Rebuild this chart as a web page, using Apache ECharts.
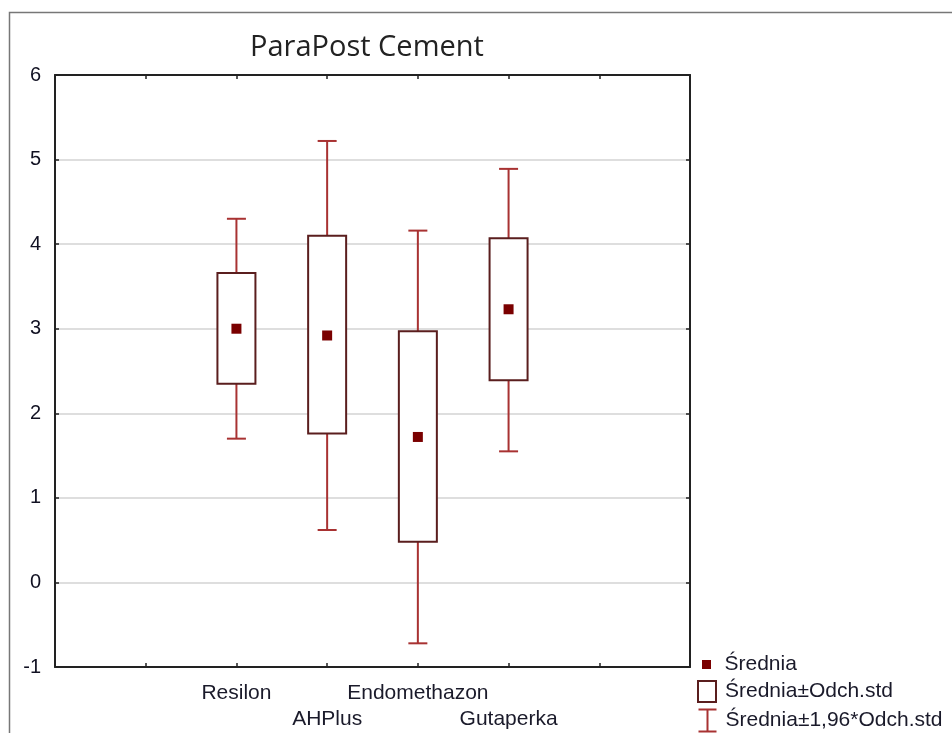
<!DOCTYPE html>
<html>
<head>
<meta charset="utf-8">
<script src="https://cdn.jsdelivr.net/npm/echarts@6/dist/echarts.min.js"></script>
<style>
html,body{margin:0;padding:0;background:#fff;}
#chart{width:952px;height:733px;}
</style>
</head>
<body>
<div id="chart"></div>
<script>
// ---- data ----
var categories = ['Resilon', 'AHPlus', 'Endomethazon', 'Gutaperka'];
var means  = [3.00, 2.92, 1.72, 3.23];   // Średnia
var sdLow  = [2.35, 1.76, 0.48, 2.39];   // Średnia - Odch.std
var sdHigh = [3.66, 4.10, 2.97, 4.07];   // Średnia + Odch.std
var ciLow  = [1.70, 0.62, -0.72, 1.55];  // Średnia - 1,96*Odch.std
var ciHigh = [4.30, 5.22, 4.16, 4.89];   // Średnia + 1,96*Odch.std
var yTicks = [-1, 0, 1, 2, 3, 4, 5, 6];

var padBefore = ['_a', '_b'];
var padAfter = ['_c', '_d'];
var axisCats = padBefore.concat(categories, padAfter);
var offset = padBefore.length;

var boxData = categories.map(function (c, i) { return [i + offset, sdLow[i], sdHigh[i]]; });
var whiskerData = categories.map(function (c, i) { return [i + offset, ciLow[i], ciHigh[i]]; });
var meanData = categories.map(function (c, i) { return [i + offset, means[i]]; });

var WHISKER = '#a83232', BOX = '#5a1e1e', MEAN = '#7a0000';
var FONT = '"Liberation Sans", Arial, sans-serif';

var chart = echarts.init(document.getElementById('chart'), null, {renderer: 'canvas'});

function catLabel(v, idx) {
  if (v.charAt(0) === '_') return '';
  var k = categories.indexOf(v);
  return (k % 2 === 1) ? '\n' + v : v;
}

var option = {
  animation: false,
  backgroundColor: '#fff',
  title: {
    text: 'ParaPost Cement',
    left: 250, top: 33,
    padding: 0,
    textStyle: {fontFamily: '"Open Sans", sans-serif', fontSize: 29, fontWeight: 'normal', color: '#222'}
  },
  graphic: [{
    type: 'polyline',
    shape: {points: [[9.5, 733], [9.5, 12.5], [952, 12.5]]},
    style: {stroke: '#777', lineWidth: 1.5, fill: null},
    silent: true
  }],
  legend: [
    {
      orient: 'vertical', left: 702, top: 654, padding: 0,
      itemWidth: 26, itemHeight: 9, symbolKeepAspect: true,
      textStyle: {fontFamily: FONT, fontSize: 21, color: '#1a1a2a'},
      data: [{name: 'Średnia', icon: 'path://M0,0H10V10H0Z', itemStyle: {color: MEAN, opacity: 1}}]
    },
    {
      orient: 'vertical', left: 697, top: 680, padding: 0,
      itemWidth: 26, itemHeight: 21, symbolKeepAspect: true,
      textStyle: {fontFamily: FONT, fontSize: 21, color: '#1a1a2a'},
      data: [{name: 'Średnia±Odch.std', icon: 'path://M0,0H18V21H0Z',
              itemStyle: {color: '#fff', borderColor: BOX, borderWidth: 2}}]
    },
    {
      orient: 'vertical', left: 696, top: 707, padding: 0,
      itemWidth: 26, itemHeight: 22, symbolKeepAspect: true,
      textStyle: {fontFamily: FONT, fontSize: 21, color: '#1a1a2a'},
      data: [{name: 'Średnia±1,96*Odch.std', icon: 'path://M0,0H18M9,0V22M0,22H18',
              itemStyle: {color: 'none', borderColor: WHISKER, borderWidth: 2}}]
    }
  ],
  grid: {left: 55, right: 262, top: 75, bottom: 66, containLabel: false},
  xAxis: [
    {
      type: 'category', data: axisCats, boundaryGap: false, position: 'bottom',
      axisLine: {onZero: false, lineStyle: {color: '#222', width: 2}},
      axisTick: {inside: true, length: 4, interval: 0, lineStyle: {color: '#222', width: 1.5}},
      axisLabel: {interval: 0, formatter: catLabel, fontFamily: FONT, fontSize: 21,
                  color: '#1a1a2a', margin: 13, lineHeight: 26},
      splitLine: {show: false}
    },
    {
      type: 'category', data: axisCats, boundaryGap: false, position: 'top',
      axisLine: {onZero: false, lineStyle: {color: '#222', width: 2}},
      axisTick: {inside: true, length: 4, interval: 0, lineStyle: {color: '#222', width: 1.5}},
      axisLabel: {show: false}, splitLine: {show: false}
    }
  ],
  yAxis: [
    {
      type: 'value', min: yTicks[0], max: yTicks[yTicks.length - 1], interval: 1, position: 'left',
      axisLine: {show: true, onZero: false, lineStyle: {color: '#222', width: 2}},
      axisTick: {show: true, inside: true, length: 4, lineStyle: {color: '#222', width: 1.5}},
      axisLabel: {fontFamily: FONT, fontSize: 20, color: '#111122', margin: 14},
      splitLine: {show: true, lineStyle: {color: '#dedede', width: 2}}
    },
    {
      type: 'value', min: yTicks[0], max: yTicks[yTicks.length - 1], interval: 1, position: 'right',
      axisLine: {show: true, onZero: false, lineStyle: {color: '#222', width: 2}},
      axisTick: {show: true, inside: true, length: 4, lineStyle: {color: '#222', width: 1.5}},
      axisLabel: {show: false}, splitLine: {show: false}
    }
  ],
  series: [
    {
      name: 'Średnia±1,96*Odch.std',
      type: 'custom',
      itemStyle: {color: WHISKER},
      encode: {x: 0, y: [1, 2]},
      data: whiskerData,
      renderItem: function (params, api) {
        var x = api.value(0);
        var lo = api.coord([x, api.value(1)]);
        var hi = api.coord([x, api.value(2)]);
        var half = 9.5;
        var st = {stroke: WHISKER, lineWidth: 2, fill: null};
        return {
          type: 'group',
          children: [
            {type: 'line', shape: {x1: lo[0], y1: lo[1], x2: hi[0], y2: hi[1]}, style: st},
            {type: 'line', shape: {x1: lo[0] - half, y1: lo[1], x2: lo[0] + half, y2: lo[1]}, style: st},
            {type: 'line', shape: {x1: hi[0] - half, y1: hi[1], x2: hi[0] + half, y2: hi[1]}, style: st}
          ]
        };
      }
    },
    {
      name: 'Średnia±Odch.std',
      type: 'custom',
      itemStyle: {color: BOX},
      encode: {x: 0, y: [1, 2]},
      data: boxData,
      renderItem: function (params, api) {
        var x = api.value(0);
        var lo = api.coord([x, api.value(1)]);
        var hi = api.coord([x, api.value(2)]);
        var w = 38;
        return {
          type: 'rect',
          shape: {x: lo[0] - w / 2, y: hi[1], width: w, height: lo[1] - hi[1]},
          style: {fill: '#fff', stroke: BOX, lineWidth: 2}
        };
      }
    },
    {
      name: 'Średnia',
      type: 'scatter',
      symbol: 'rect',
      symbolSize: 10,
      itemStyle: {color: MEAN, opacity: 1},
      data: meanData,
      z: 5
    }
  ]
};
chart.setOption(option);
</script>
</body>
</html>
